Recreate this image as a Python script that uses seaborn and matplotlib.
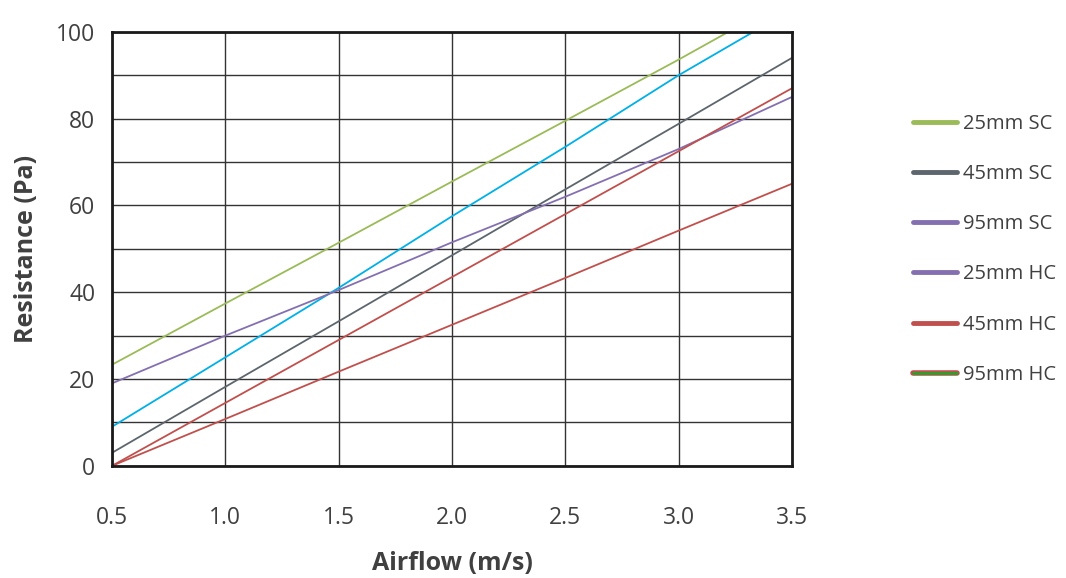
import pandas as pd
import matplotlib.pyplot as plt
import seaborn as sns
from matplotlib.lines import Line2D

# Values (Resistance in Pa at each airflow in m/s)
airflow = [0.5, 1.0, 1.5, 2.0, 2.5, 3.0, 3.5]
green_sc25 = [23.3, 37.4, 51.4, 65.5, 79.5, 93.6, None]
cyan_line = [9.0, 25.0, 41.0, 57.5, 73.5, 90.0, None]
gray_sc45 = [3.0, 18.2, 33.3, 48.5, 63.7, 78.8, 94.0]
purple_sc95 = [19.0, 30.0, 40.5, 51.5, 62.0, 73.0, 85.0]
red_steep = [0.0, 14.5, 29.0, 43.5, 58.0, 72.5, 87.0]
red_low = [0.0, 10.8, 21.7, 32.5, 43.3, 54.2, 65.0]

# where the two top lines leave the plot at 100 Pa
green_end = (3.22, 100)
cyan_end = (3.33, 100)

legend_labels = ["25mm SC", "45mm SC", "95mm SC", "25mm HC", "45mm HC", "95mm HC"]

series = {
    "green": green_sc25,
    "cyan": cyan_line,
    "gray": gray_sc45,
    "purple": purple_sc95,
    "red_steep": red_steep,
    "red_low": red_low,
}
palette = {
    "green": "#9bbb59",
    "cyan": "#00b0e6",
    "gray": "#5d666d",
    "purple": "#8470b0",
    "red_steep": "#c0504d",
    "red_low": "#c0504d",
}

rows = []
for name, vals in series.items():
    for x, y in zip(airflow, vals):
        if y is not None:
            rows.append({"airflow": x, "resistance": y, "series": name})
rows.append({"airflow": green_end[0], "resistance": green_end[1], "series": "green"})
rows.append({"airflow": cyan_end[0], "resistance": cyan_end[1], "series": "cyan"})
df = pd.DataFrame(rows)

sns.set_style("white")
plt.rcParams["font.family"] = ["Open Sans", "DejaVu Sans"]

fig = plt.figure(figsize=(10.66, 5.78), dpi=100)
ax = fig.add_axes([0.105, 0.194, 0.638, 0.751])

sns.lineplot(data=df, x="airflow", y="resistance", hue="series", palette=palette,
             linewidth=1.3, legend=False, ax=ax, sort=True, estimator=None)

ax.set_xlim(0.5, 3.5)
ax.set_ylim(0, 100)
ax.set_xticks([0.5, 1.0, 1.5, 2.0, 2.5, 3.0, 3.5])
ax.set_xticklabels(["0.5", "1.0", "1.5", "2.0", "2.5", "3.0", "3.5"])
ax.set_yticks([0, 20, 40, 60, 80, 100])
ax.set_yticks(range(0, 101, 10), minor=True)
ax.grid(True, which="both", color="#333333", linewidth=1.0)
ax.set_axisbelow(True)
ax.tick_params(axis="both", length=0, labelsize=16.5, colors="#404040")
ax.tick_params(axis="x", pad=29)
ax.tick_params(axis="y", pad=12)
for s in ax.spines.values():
    s.set_color("#1a1a1a")
    s.set_linewidth(2)

ax.set_xlabel("Airflow (m/s)", fontsize=18, fontweight="bold", color="#404040", labelpad=15)
ax.set_ylabel("Resistance (Pa)", fontsize=18, fontweight="bold", color="#404040", labelpad=12)

handle_colors = ["#9bbb59", "#5d666d", "#8470b0", "#8470b0", "#c0504d", "#c0504d"]
handles = [Line2D([], [], color=c, linewidth=3.5) for c in handle_colors]
# last entry: red outline with a green core
handles[-1] = (Line2D([], [], color="#c0504d", linewidth=4),
               Line2D([], [], color="#2ca02c", linewidth=2))
fig.legend(handles, legend_labels, loc="upper left", bbox_to_anchor=(0.849, 0.817),
           frameon=False, fontsize=14.5, labelcolor="#404040", handlelength=2.2,
           handletextpad=0.3, labelspacing=1.5, borderaxespad=0)

fig.savefig("out.png", dpi=100)
